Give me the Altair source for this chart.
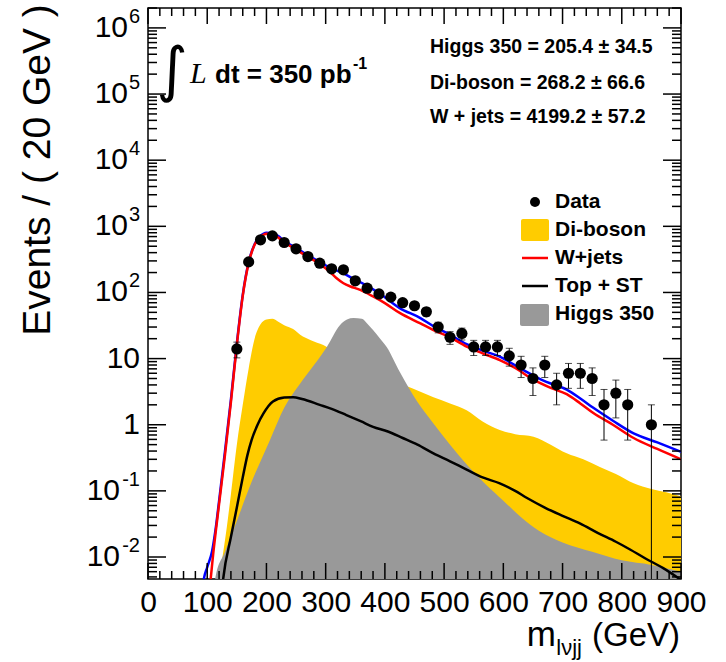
import altair as alt
import pandas as pd

# ---------------- data ----------------
# Data points (bin centres, GeV) and event counts
data_m = [150, 170, 190, 210, 230, 250, 270, 290, 310, 330, 350, 370, 390, 410, 430, 450,
          470, 490, 510, 530, 550, 570, 590, 610, 630, 650, 670, 690, 710, 730, 750, 770,
          790, 810, 850]
data_n = [14, 290, 625, 718, 569, 457, 349, 277, 228, 220, 150, 116, 95, 85, 70, 63,
          51, 30, 21, 24, 15, 15, 15, 11, 8, 5, 8, 4, 6, 6, 5, 2,
          3, 2, 1]

# W+jets (red line)
wj_m = [100, 110, 120, 130, 140, 150, 160, 170, 180, 190, 200, 210, 220, 230, 250, 270, 290,
        307, 318, 330, 342, 355, 380, 400, 425, 460, 482, 510, 538, 565, 594, 620, 651, 680,
        707, 730, 752, 785, 820, 860, 900]
wj_v = [0.0014, 0.011, 0.063, 0.35, 2.2, 16, 89, 280, 525, 690, 775, 760, 675, 575, 445, 345, 270,
        205, 165, 138, 123, 112, 87, 69, 49, 34, 27, 21, 15.2, 12, 9.5, 7.2, 4.8, 3.6,
        2.9, 2.1, 1.5, 1.0, 0.63, 0.43, 0.30]

# total (blue line)
tot_m = [88, 94, 100, 108, 115, 120, 130, 140, 150, 160, 170, 180, 190, 200, 210, 220, 230, 250, 270,
         290, 310, 330, 350, 370, 390, 425, 460, 482, 510, 538, 565, 594, 620, 651, 680, 707,
         730, 752, 785, 820, 860, 900]
tot_v = [0.0015, 0.0045, 0.007, 0.012, 0.03, 0.07, 0.4, 2.4, 17, 92, 288, 535, 715, 800, 785, 710, 600, 470, 365,
         290, 230, 195, 155, 126, 98, 58, 41, 31, 23, 16.5, 13.2, 10.7, 7.9, 5.5, 4.2, 3.4,
         2.5, 1.8, 1.15, 0.74, 0.54, 0.39]

# Di-boson (yellow area)
db_m = [110, 115, 125, 133, 140, 150, 160, 170, 180, 190, 200, 210, 220, 230, 245, 257, 275, 296,
        320, 350, 380, 410, 448, 482, 510, 538, 565, 594, 620, 651, 680, 707, 735, 763, 790,
        820, 850, 875, 900]
db_v = [0.001, 0.0025, 0.009, 0.028, 0.089, 0.5, 2.0, 7.1, 20, 33, 39, 40, 36, 32, 28, 23, 19, 16,
        12, 8.5, 6.3, 4.7, 3.5, 2.6, 2.1, 1.66, 1.12, 0.83, 0.72, 0.66, 0.5, 0.37, 0.3, 0.23, 0.18,
        0.13, 0.107, 0.095, 0.083]

# Higgs 350 (grey area)
hg_m = [105, 114, 130, 150, 174, 206, 230, 257, 280, 302, 324, 336, 347, 361, 370, 380, 392, 403,
        425, 455, 480, 510, 540, 570, 600, 630, 660, 700, 750, 800, 850, 900]
hg_v = [0.001, 0.005, 0.012, 0.035, 0.13, 0.59, 1.8, 4.2, 7.9, 15, 32, 39, 41, 40, 34, 27, 20, 15,
        6.3, 2.2, 1.1, 0.5, 0.24, 0.126, 0.071, 0.04, 0.025, 0.0166, 0.012, 0.0089, 0.0076, 0.006]

# Top + ST (black line)
tp_m = [120, 127, 140, 150, 160, 168, 175, 185, 195, 211, 230, 245, 260, 290, 310, 335, 360, 380,
        405, 430, 455, 482, 510, 538, 565, 594, 620, 640, 670, 700, 730, 760, 790, 814, 840,
        870, 900]
tp_v = [0.001, 0.0047, 0.02, 0.056, 0.16, 0.35, 0.59, 1.0, 1.48, 2.24, 2.57, 2.6, 2.45, 2.0, 1.74, 1.4, 1.12, 0.93,
        0.79, 0.63, 0.5, 0.37, 0.28, 0.21, 0.16, 0.13, 0.1, 0.078, 0.056, 0.042, 0.032, 0.023, 0.017, 0.013, 0.0095,
        0.0068, 0.0045]

# axis labels
x_ticks = [0, 100, 200, 300, 400, 500, 600, 700, 800, 900]
y_vals = [1e6, 1e5, 1e4, 1e3, 1e2, 10, 1, 0.1, 0.01]
y_base = ["10", "10", "10", "10", "10", "10", "1", "10", "10"]
y_exp = ["6", "5", "4", "3", "2", "", "", "-1", "-2"]

YMIN, YMAX = 0.00465, 2.0e6
FLOOR = 1e-6   # area baseline, below the visible range
W, H = 533, 571

# ---------------- chart ----------------
xs = alt.Scale(domain=[0, 900], nice=False, zero=False)
ys = alt.Scale(type="log", domain=[YMIN, YMAX], nice=False)
xaxis = alt.Axis(values=x_ticks, labelFontSize=30, labelFont="Liberation Sans", labelColor="black",
                 ticks=False, domain=False, grid=False, labelPadding=8, labelFlush=False,
                 labelOverlap=False, title=None, format="d")

X = alt.X("m:Q", scale=xs, axis=xaxis)
Y = alt.Y("v:Q", scale=ys, axis=None)

def df(m, v):
    return pd.DataFrame({"m": m, "v": v})

diboson = alt.Chart(df(db_m, db_v)).mark_area(color="#FFCC00", clip=True, interpolate="monotone").encode(
    x=X, y=Y, y2=alt.datum(FLOOR))
higgs = alt.Chart(df(hg_m, hg_v)).mark_area(color="#999999", clip=True, interpolate="monotone").encode(
    x=X, y=Y, y2=alt.datum(FLOOR))
top = alt.Chart(df(tp_m, tp_v)).mark_line(color="black", strokeWidth=2.5, clip=True, interpolate="monotone").encode(
    x=X, y=Y)
total = alt.Chart(df(tot_m, tot_v)).mark_line(color="#0000FF", strokeWidth=2.5, clip=True, interpolate="monotone").encode(
    x=X, y=Y)
wjets = alt.Chart(df(wj_m, wj_v)).mark_line(color="#FF0000", strokeWidth=2.5, clip=True, interpolate="monotone").encode(
    x=X, y=Y)

ddf = pd.DataFrame({"m": data_m, "n": data_n})
dbase = alt.Chart(ddf).transform_calculate(
    v="datum.n",
    lo=f"max(datum.n - sqrt(datum.n), {YMIN})",
    hi="datum.n + sqrt(datum.n)")
ebar = dbase.mark_rule(color="black", strokeWidth=1, clip=True).encode(
    x=X, y=alt.Y("lo:Q", scale=ys, axis=None), y2="hi:Q")
cap_hi = dbase.mark_tick(orient="horizontal", size=7, thickness=1, color="black").encode(
    x=X, y=alt.Y("hi:Q", scale=ys, axis=None))
cap_lo = dbase.transform_filter(f"datum.lo > {YMIN}").mark_tick(
    orient="horizontal", size=7, thickness=1, color="black").encode(
    x=X, y=alt.Y("lo:Q", scale=ys, axis=None))
points = dbase.mark_point(filled=True, shape="circle", size=125, color="black", opacity=1).encode(
    x=X, y=alt.Y("v:Q", scale=ys, axis=None))

# inward ticks on all four sides
x_minor = [v for v in range(0, 901, 20) if v % 100]
y_minor = [k * 10.0 ** d for d in range(-3, 7) for k in range(2, 10) if YMIN <= k * 10.0 ** d <= YMAX]
TK = dict(color="black", strokeWidth=1.5)
xt_maj = alt.Chart(pd.DataFrame({"m": x_ticks}))
xt_min = alt.Chart(pd.DataFrame({"m": x_minor}))
yt_maj = alt.Chart(pd.DataFrame({"v": y_vals}))
yt_min = alt.Chart(pd.DataFrame({"v": y_minor}))
ticks = [
    xt_maj.mark_rule(**TK).encode(x=X, y=alt.value(H), y2=alt.value(H - 16)),
    xt_maj.mark_rule(**TK).encode(x=X, y=alt.value(0), y2=alt.value(16)),
    xt_min.mark_rule(**TK).encode(x=X, y=alt.value(H), y2=alt.value(H - 8)),
    xt_min.mark_rule(**TK).encode(x=X, y=alt.value(0), y2=alt.value(8)),
    yt_maj.mark_rule(**TK).encode(y=Y, x=alt.value(0), x2=alt.value(18)),
    yt_maj.mark_rule(**TK).encode(y=Y, x=alt.value(W), x2=alt.value(W - 18)),
    yt_min.mark_rule(**TK).encode(y=Y, x=alt.value(0), x2=alt.value(9)),
    yt_min.mark_rule(**TK).encode(y=Y, x=alt.value(W), x2=alt.value(W - 9)),
]

# y tick labels with superscript exponents
ylab = alt.Chart(pd.DataFrame({"v": y_vals, "b": y_base, "e": y_exp}))
LF = dict(font="Liberation Sans", fontSize=30, color="black", align="right", baseline="middle")
ylabels = [
    ylab.transform_filter("datum.e == ''").mark_text(**LF).encode(y=Y, x=alt.value(-8), text="b:N"),
    ylab.transform_filter("datum.e != '' && indexof(datum.e, '-') < 0").mark_text(**LF).encode(
        y=Y, x=alt.value(-20), text="b:N"),
    ylab.transform_filter("indexof(datum.e, '-') >= 0").mark_text(**LF).encode(
        y=Y, x=alt.value(-28), text="b:N"),
    ylab.transform_filter("datum.e != ''").mark_text(
        font="Liberation Sans", fontSize=20, color="black", align="right", baseline="middle", dy=-11).encode(
        y=Y, x=alt.value(-8), text="e:N"),
]

one = pd.DataFrame({"a": [0]})

def txt(s, x, y, size, **kw):
    props = dict(font="Liberation Sans", fontSize=size, color="black", align="left", baseline="middle")
    props.update(kw)
    return alt.Chart(one).mark_text(text=s, **props).encode(x=alt.value(x), y=alt.value(y))

texts = [
    # axis titles
    txt("Events / ( 20 GeV )", -110, 162, 39, angle=270, align="center"),
    txt("(GeV)", 532, 638, 33, align="right", baseline="alphabetic"),
    txt("lνjj", 434, 647, 22, align="right", baseline="alphabetic"),
    txt("m", 408, 638, 35, align="right", baseline="alphabetic"),
    # luminosity
    txt("∫", 24, 64, 60, font="DejaVu Sans", align="center"),
    txt("L", 42, 75, 30, font="Liberation Serif", fontStyle="italic", baseline="alphabetic"),
    txt("dt = 350 pb", 67, 75, 26, fontWeight="bold", baseline="alphabetic"),
    txt("-1", 205, 61, 16, fontWeight="bold", baseline="alphabetic"),
    # yields
    txt("Higgs 350 = 205.4 ± 34.5", 282, 39, 19.5, fontWeight="bold"),
    txt("Di-boson = 268.2  ± 66.6", 282, 75, 19.5, fontWeight="bold"),
    txt("W + jets = 4199.2 ± 57.2", 282, 109, 19.5, fontWeight="bold"),
    # legend
    txt("Data", 407, 194, 21, fontWeight="bold"),
    txt("Di-boson", 407, 222, 21, fontWeight="bold"),
    txt("W+jets", 407, 250, 21, fontWeight="bold"),
    txt("Top + ST", 407, 278, 21, fontWeight="bold"),
    txt("Higgs 350", 407, 306, 21, fontWeight="bold"),
]
legend_syms = [
    alt.Chart(one).mark_point(filled=True, shape="circle", size=100, color="black", opacity=1).encode(
        x=alt.value(387), y=alt.value(194)),
    alt.Chart(one).mark_rect(color="#FFCC00", cornerRadius=2).encode(
        x=alt.value(373), x2=alt.value(401), y=alt.value(211), y2=alt.value(233)),
    alt.Chart(one).mark_rule(color="#FF0000", strokeWidth=2.5).encode(
        x=alt.value(374), x2=alt.value(400), y=alt.value(250)),
    alt.Chart(one).mark_rule(color="black", strokeWidth=2.5).encode(
        x=alt.value(374), x2=alt.value(400), y=alt.value(278)),
    alt.Chart(one).mark_rect(color="#999999", cornerRadius=2).encode(
        x=alt.value(372), x2=alt.value(401), y=alt.value(296), y2=alt.value(318)),
]

chart = alt.layer(
    diboson, higgs, top, total, wjets, ebar, cap_hi, cap_lo, points,
    *ticks, *ylabels, *texts, *legend_syms
).properties(
    width=W, height=H,
    autosize=alt.AutoSizeParams(type="none"),
    padding={"left": 148, "top": 8, "right": 45, "bottom": 83},
    background="white",
).configure_view(stroke="black", strokeWidth=1.5)

chart.save("out.html", embed_options={"renderer": "svg", "actions": False})
